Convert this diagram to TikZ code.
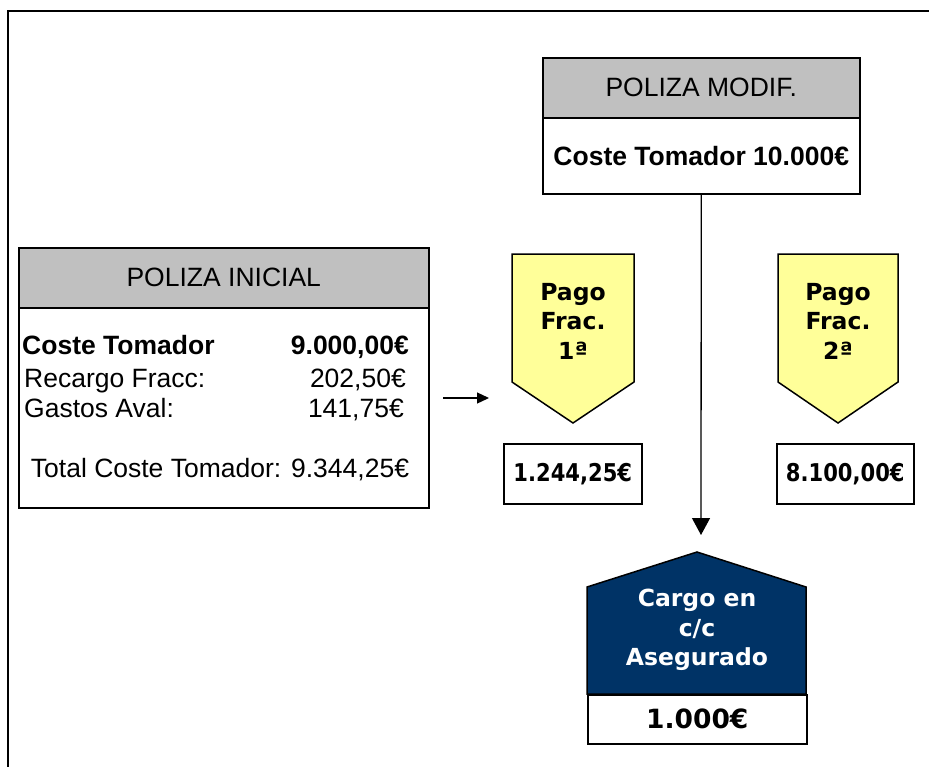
\documentclass[tikz,border=0pt]{standalone}
\usepackage{fontspec}
\setmainfont{Liberation Sans}
\newfontfamily\verd{DejaVu Sans}
\newfontfamily\verdc[FakeStretch=0.86]{DejaVu Sans}
\usetikzlibrary{arrows.meta}
\definecolor{hdrgray}{HTML}{C0C0C0}
\definecolor{pagoyel}{HTML}{FFFF99}
\definecolor{navy}{HTML}{003366}
\tikzset{
  box/.style={draw=black, line width=1.5pt, inner sep=0pt, anchor=north west},
  hdr/.style={box, fill=hdrgray, font=\fontsize{26.5}{31}\selectfont},
  arial/.style={inner sep=0pt, font=\fontsize{26.5}{31}\selectfont},
  arialb/.style={inner sep=0pt, font=\fontsize{26.5}{31}\selectfont\bfseries},
  verdb/.style={inner sep=0pt, align=center, font=\verd\bfseries\fontsize{23.5}{29.5}\selectfont},
  amt/.style={box, font=\verdc\bfseries\fontsize{24.5}{28}\selectfont},
  shp/.style={draw=black, line width=1.5pt, line join=miter},
  conn/.style={line width=1.3pt},
}
\begin{document}
\begin{tikzpicture}[x=1pt,y=-1pt]
\useasboundingbox (0,0) rectangle (929,766);
% frame
\draw[line width=2pt] (8,770) -- (8,11) -- (935,11);

% POLIZA MODIF
\node[hdr, minimum width=317pt, minimum height=60pt] (modh) at (542,57) {POLIZA MODIF.};
\node[box, minimum width=317pt, minimum height=76pt, font=\fontsize{26.5}{31}\selectfont\bfseries] (modb) at (542,117) {Coste Tomador 10.000€};

% POLIZA INICIAL
\node[hdr, minimum width=410pt, minimum height=60pt] (inih) at (18,247) {POLIZA INICIAL};
\node[box, minimum width=410pt, minimum height=200pt] (inib) at (18,307) {};
\node[arialb, anchor=base west] (l1) at (22,354) {Coste Tomador};
\node[arialb, anchor=base east] (r1) at (409,354) {9.000,00€};
\node[arial, anchor=base west] (l2) at (24,387) {Recargo Fracc:};
\node[arial, anchor=base east] (r2) at (406,387) {202,50€};
\node[arial, anchor=base west] (l3) at (24,417) {Gastos Aval:};
\node[arial, anchor=base east] (r3) at (404,417) {141,75€};
\node[arial, anchor=base] (tot) at (220,477) {Total Coste Tomador: 9.344,25€};

% small arrow
\coordinate (sa) at (443,398);
\coordinate (sb) at (489,398);
\draw[conn, -{Triangle[length=12pt,width=11pt]}] (sa) -- (sb);

% Pago Frac 1
\draw[shp, fill=pagoyel] (512,254) -- (634,254) -- (634,382) -- (573,423) -- (512,382) -- cycle;
\node[verdb] (p1) at (573,321) {Pago\\Frac.\\1ª};
% Pago Frac 2
\draw[shp, fill=pagoyel] (778,254) -- (898,254) -- (898,382) -- (838,423) -- (778,382) -- cycle;
\node[verdb] (p2) at (838,321) {Pago\\Frac.\\2ª};

% amounts
\node[amt, minimum width=138pt, minimum height=60pt] (a1) at (503,443) {1.244,25€};
\node[amt, minimum width=137pt, minimum height=60pt] (a2) at (776,443) {8.100,00€};

% Cargo house
\draw[shp, fill=navy] (587,694) -- (587,587) -- (697,552) -- (806,587) -- (806,694) -- cycle;
\node[verdb, text=white] (cargo) at (697,630) {Cargo en\\c/c\\Asegurado};
\node[box, minimum width=219pt, minimum height=49pt, font=\verd\bfseries\fontsize{26.5}{30}\selectfont] (cb) at (587,694) {1.000€};

% main connector
\coordinate (tip) at (701,535);
\draw[conn, -{Triangle[length=17pt,width=18pt]}] (modb.south) -- (tip);
\end{tikzpicture}
\end{document}
